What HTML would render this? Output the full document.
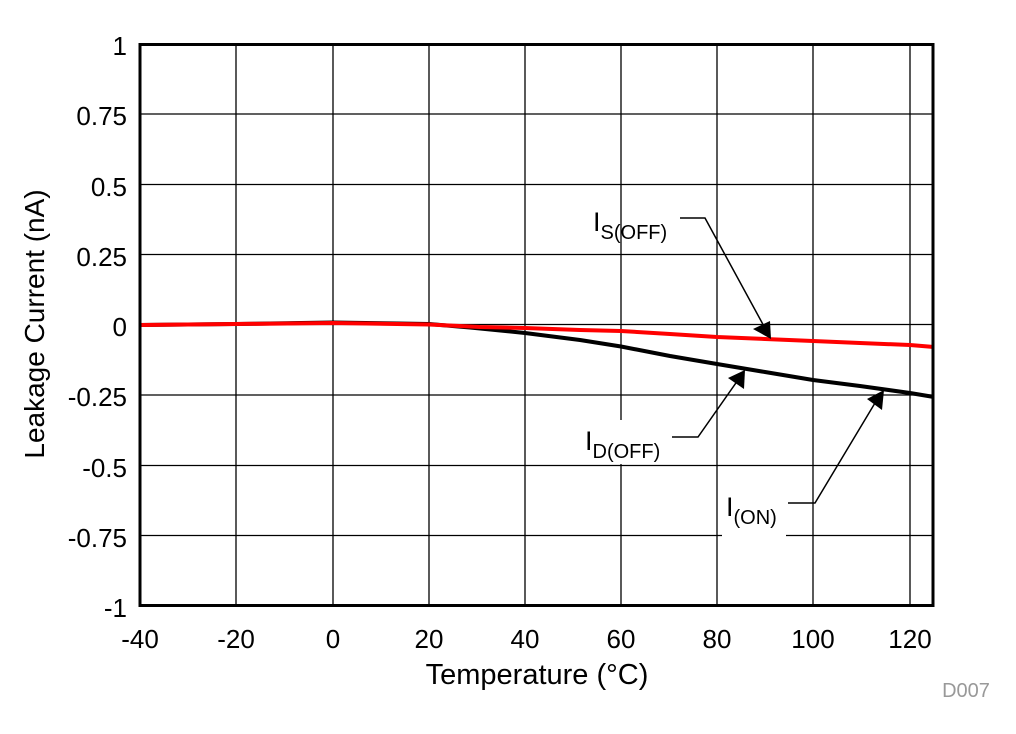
<!DOCTYPE html>
<html><head><meta charset="utf-8"><style>body{margin:0;background:#fff}svg{display:block}</style></head><body>
<svg width="1016" height="734" xmlns="http://www.w3.org/2000/svg" font-family="Liberation Sans, Arial, sans-serif">
<rect width="1016" height="734" fill="#fff"/>
<g stroke="#000" stroke-width="1.3">
<line x1="236" y1="44" x2="236" y2="605"/><line x1="333" y1="44" x2="333" y2="605"/><line x1="429" y1="44" x2="429" y2="605"/><line x1="525" y1="44" x2="525" y2="605"/><line x1="621" y1="44" x2="621" y2="605"/><line x1="717" y1="44" x2="717" y2="605"/><line x1="813" y1="44" x2="813" y2="605"/><line x1="910" y1="44" x2="910" y2="605"/>
<line x1="140" y1="114" x2="934" y2="114"/><line x1="140" y1="184.5" x2="934" y2="184.5"/><line x1="140" y1="254.5" x2="934" y2="254.5"/><line x1="140" y1="324.5" x2="934" y2="324.5"/><line x1="140" y1="395" x2="934" y2="395"/><line x1="140" y1="465.5" x2="934" y2="465.5"/><line x1="140" y1="535.5" x2="934" y2="535.5"/>
</g>
<rect x="580" y="420" width="92" height="44" fill="#fff"/>
<rect x="722" y="485" width="64" height="56" fill="#fff"/>
<polyline fill="none" stroke="#000" stroke-width="4" stroke-linejoin="round" points="140,325 236,324 333,322.5 429,324 470,327.5 525,333 580,340 621,346.5 670,356 717,364 765,372 813,380 860,386 910,393 934,397"/>
<polyline fill="none" stroke="#f00" stroke-width="4" stroke-linejoin="round" points="140,325 236,324 333,323 429,324.5 480,327 525,328 580,330 621,331 670,334 717,337 765,339 813,341 860,343 910,345 934,347"/>
<rect x="140" y="44.5" width="793" height="561" fill="none" stroke="#000" stroke-width="3"/>
<g stroke="#000" stroke-width="1.5" fill="none">
<polyline points="680,218 705,218 766,330"/>
<polyline points="672,437 698,437 738,380"/>
<polyline points="788,503 815,503 878,398"/>
</g>
<g fill="#000">
<polygon points="771,339 753,329 770,321"/>
<polygon points="745,370 744,389 728,378"/>
<polygon points="884,390 882,410 867,399"/>
</g>
<g font-size="27" fill="#000">
<text x="593" y="231">I<tspan font-size="20" dy="8">S(OFF)</tspan></text>
<text x="585" y="450">I<tspan font-size="20" dy="8">D(OFF)</tspan></text>
<text x="726" y="516">I<tspan font-size="20" dy="8">(ON)</tspan></text>
</g>
<g font-size="26" text-anchor="end" fill="#000">
<text x="127" y="55">1</text><text x="127" y="125">0.75</text><text x="127" y="196">0.5</text><text x="127" y="266">0.25</text><text x="127" y="336">0</text><text x="127" y="406">-0.25</text><text x="127" y="477">-0.5</text><text x="127" y="547">-0.75</text><text x="127" y="617">-1</text>
</g>
<g font-size="26" text-anchor="middle" fill="#000">
<text x="140" y="648">-40</text><text x="236" y="648">-20</text><text x="333" y="648">0</text><text x="429" y="648">20</text><text x="525" y="648">40</text><text x="621" y="648">60</text><text x="717" y="648">80</text><text x="813" y="648">100</text><text x="910" y="648">120</text>
</g>
<text x="537" y="684" font-size="29" text-anchor="middle">Temperature (°C)</text>
<text transform="translate(44,324) rotate(-90)" font-size="28" text-anchor="middle">Leakage Current (nA)</text>
<text x="966" y="697" font-size="20" fill="#999" text-anchor="middle">D007</text>
</svg>
</body></html>
